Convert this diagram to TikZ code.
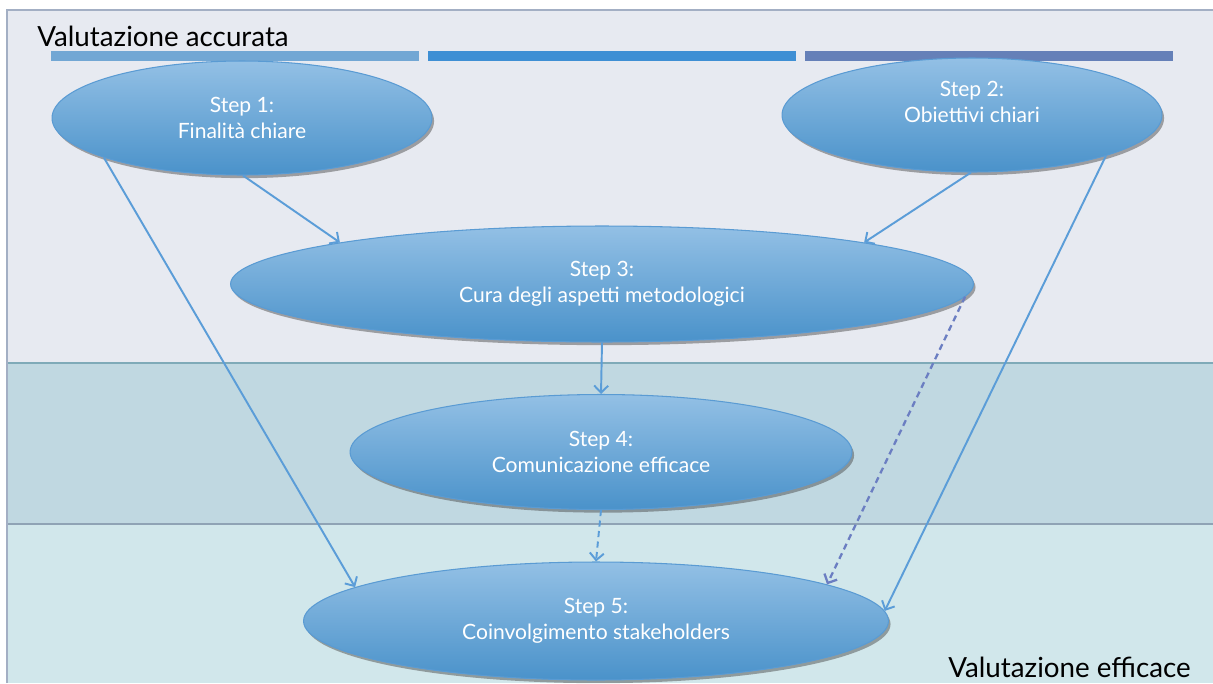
\documentclass[tikz,border=0pt]{standalone}
\usepackage{fontspec}
\setmainfont{Lato}
\usetikzlibrary{shapes.geometric,arrows.meta,shadows}
\definecolor{bandtop}{HTML}{E7EAF1}
\definecolor{bandmid}{HTML}{C0D8E1}
\definecolor{bandbot}{HTML}{D1E7EB}
\definecolor{midline}{HTML}{7FAAB8}
\definecolor{botline}{HTML}{8FA3B5}
\definecolor{frameline}{HTML}{A3AFC4}
\definecolor{barone}{HTML}{72A7D4}
\definecolor{bartwo}{HTML}{3E8FD4}
\definecolor{barthree}{HTML}{6580B8}
\definecolor{steptop}{HTML}{93C0E5}
\definecolor{stepbottom}{HTML}{4A92CA}
\definecolor{stepline}{HTML}{5A9BD3}
\definecolor{linkblue}{HTML}{5B9DD8}
\definecolor{linkpurple}{HTML}{6B7EC2}
\tikzset{
  stepnode/.style={ellipse, draw=stepline, line width=0.6pt,
    top color=steptop, bottom color=stepbottom, text=white, align=center,
    font=\fontsize{12}{14.9}\selectfont, inner sep=0pt,
    drop shadow={shadow xshift=1.2pt, shadow yshift=-1.8pt, opacity=0.45, fill=black!75}},
  link/.style={draw=linkblue, line width=1.1pt, -{Straight Barb[length=4pt,width=8pt]}},
  titletext/.style={font=\fontsize{15.8}{18}\selectfont, text=black, inner sep=0pt}
}

\begin{document}
\begin{tikzpicture}[x=0.02cm, y=-0.02cm]
\useasboundingbox (0,0) rectangle (1213,683);
% bands
\fill[white] (0,0) rectangle (1213,683);
\fill[bandtop] (7,10) rectangle (1213,363);
\fill[bandmid] (7,363) rectangle (1213,524);
\fill[bandbot] (7,524) rectangle (1213,683);
\draw[midline, line width=0.8pt] (7,363) -- (1213,363);
\draw[botline, line width=0.8pt] (7,524) -- (1213,524);
\draw[frameline, line width=0.8pt] (7,683) -- (7,10) -- (1213,10);
\fill[barone] (51,51) rectangle (419,61);
\fill[bartwo] (428,51) rectangle (796,61);
\fill[barthree] (805,51) rectangle (1173,61);
\node[titletext, anchor=base west] (acc) at (37,46) {Valutazione accurata};
\node[titletext, anchor=base west] (eff) at (948,677) {Valutazione efficace};

\node[stepnode, minimum width=7.6cm, minimum height=2.28cm] (s1) at (242,118) {Step 1:\\Finalità chiare};
\node[stepnode, minimum width=7.6cm, minimum height=2.28cm,
  label={[text=white, align=center, font=\fontsize{12}{14.9}\selectfont, yshift=0.26cm]center:Step 2:\\Obiettivi chiari}] (s2) at (972,115) {};
\node[stepnode, minimum width=14.86cm, minimum height=2.32cm] (s3) at (602,284) {Step 3:\\Cura degli aspetti metodologici};
\node[stepnode, minimum width=10.04cm, minimum height=2.3cm] (s4) at (601,452) {Step 4:\\Comunicazione efficace};
\node[stepnode, minimum width=11.7cm, minimum height=2.36cm] (s5) at (596,621) {Step 5:\\Coinvolgimento stakeholders};

\draw[link] (s1.196) -- (s5.172);
\draw[link] (s1.-89) -- (s3.171);
\draw[link] (s2.-91) -- (s3.9);
\draw[link] (s2.-17) -- (s5.2);
\draw[link] (s3.south) -- (s4.north);
\draw[link, dash pattern=on 3.5pt off 2.5pt] (s4.south) -- (s5.north);
\draw[link, draw=linkpurple, line width=1.3pt, dash pattern=on 3.5pt off 2.5pt] (s3.-2) -- (s5.9);
\end{tikzpicture}
\end{document}
